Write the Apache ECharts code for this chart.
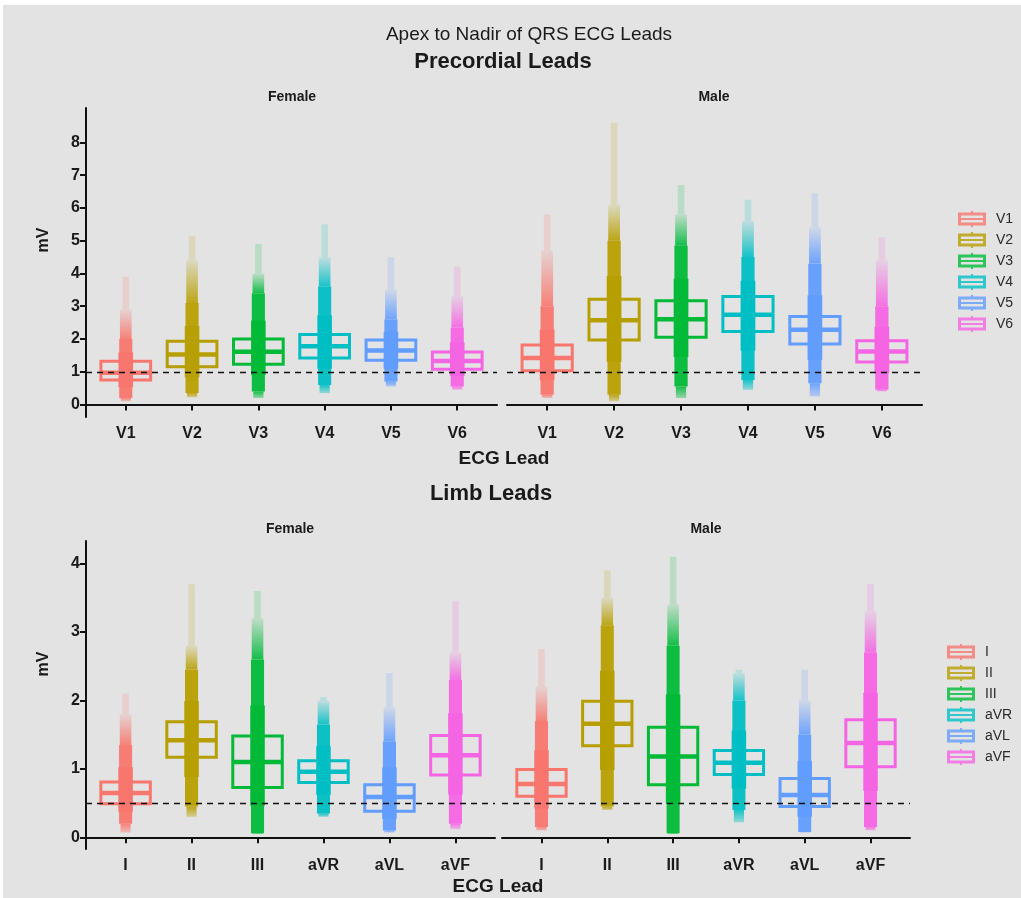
<!DOCTYPE html>
<html>
<head>
<meta charset="utf-8">
<title>Apex to Nadir of QRS ECG Leads</title>
<script src="https://cdn.jsdelivr.net/npm/echarts@6/dist/echarts.min.js"></script>
<style>
    body { margin: 0; background: #fff; }
    #bg { position: absolute; left: 3px; top: 5px; right: 0; bottom: 0; background: #e3e3e3; }
    #main { position: absolute; left: 0; top: 0; width: 1021px; height: 898px; }
</style>
</head>
<body>
<div id="bg"></div>
<div id="main"></div>
<script>
// leads
const precordialLeads = ["V1", "V2", "V3", "V4", "V5", "V6"]
const limbLeads = ["I", "II", "III", "aVR", "aVL", "aVF"]

// boxes: [q1, median, q3]
const preFemaleBox = [[0.75, 0.97, 1.32], [1.15, 1.53, 1.93], [1.23, 1.61, 2.00], [1.42, 1.78, 2.14], [1.35, 1.65, 1.97], [1.08, 1.33, 1.60]]
const preMaleBox = [[1.03, 1.42, 1.82], [1.97, 2.57, 3.21], [2.05, 2.60, 3.17], [2.23, 2.74, 3.30], [1.85, 2.28, 2.69], [1.30, 1.62, 1.95]]
const limbFemaleBox = [[0.49, 0.65, 0.81], [1.17, 1.42, 1.69], [0.73, 1.10, 1.48], [0.80, 0.96, 1.12], [0.38, 0.59, 0.77], [0.91, 1.20, 1.49]]
const limbMaleBox = [[0.60, 0.78, 0.99], [1.34, 1.66, 1.99], [0.77, 1.18, 1.61], [0.92, 1.09, 1.27], [0.45, 0.62, 0.86], [1.03, 1.38, 1.72]]

// point clouds: [min, dense low, dense high, sparse high, max]
const preFemaleCloud = [[0.1, 0.2, 2.0, 2.9, 3.9], [0.22, 0.35, 3.1, 4.4, 5.15], [0.2, 0.4, 3.4, 4.0, 4.9], [0.35, 0.6, 3.6, 4.5, 5.5], [0.55, 0.7, 2.6, 3.5, 4.5], [0.45, 0.55, 2.35, 3.3, 4.2]]
const preMaleCloud = [[0.2, 0.3, 3.0, 4.7, 5.8], [0.1, 0.3, 5.0, 6.1, 8.6], [0.2, 0.55, 4.85, 5.8, 6.7], [0.45, 0.75, 4.5, 5.6, 6.25], [0.25, 0.65, 4.3, 5.4, 6.45], [0.4, 0.45, 3.0, 4.4, 5.1]]
const limbFemaleCloud = [[0.07, 0.2, 1.35, 1.8, 2.1], [0.3, 0.45, 2.45, 2.8, 3.7], [0.05, 0.06, 2.6, 3.2, 3.6], [0.3, 0.35, 1.65, 2.0, 2.05], [0.07, 0.1, 1.4, 1.9, 2.4], [0.12, 0.2, 2.3, 2.7, 3.45]]
const limbMaleCloud = [[0.1, 0.15, 1.7, 2.2, 2.75], [0.4, 0.45, 3.1, 3.5, 3.9], [0.05, 0.06, 2.8, 3.4, 4.1], [0.22, 0.4, 2.0, 2.4, 2.45], [0.07, 0.08, 1.5, 2.0, 2.45], [0.1, 0.15, 2.7, 3.3, 3.7]]

const preTicks = [0, 1, 2, 3, 4, 5, 6, 7, 8]
const limbTicks = [0, 1, 2, 3, 4]
const preRef = 1
const limbRef = 0.5

const colors = ["#F8766D", "#B79F00", "#00BA38", "#00BFC4", "#619CFF", "#F564E3"]
const font = '"Liberation Sans", Arial, sans-serif'

function rgba(hex, a) {
    let n = parseInt(hex.slice(1), 16)
    return `rgba(${(n >> 16) & 255},${(n >> 8) & 255},${n & 255},${a})`
}

function renderLead(params, api) {
    let x = api.value(0)
    let y = (v) => api.coord([x, v])[1]
    let cx = api.coord([x, 0])[0]
    let bw = api.size([0.75, 0])[0]
    let cw = api.size([0.22, 0])[0]
    let c = api.visual("color")
    let q1 = api.value(1), med = api.value(2), q3 = api.value(3)
    let mn = api.value(4), lo = api.value(5), hi = api.value(6), sp = api.value(7), mx = api.value(8)
    let rect = (w, top, bottom, fill) => ({
        type: "rect",
        shape: { x: cx - w / 2, y: y(top), width: w, height: y(bottom) - y(top) },
        style: { fill },
    })
    return {
        type: "group",
        children: [
            {
                type: "rect",
                shape: { x: cx - bw / 2, y: y(q3), width: bw, height: y(q1) - y(q3) },
                style: { fill: "none", stroke: c, lineWidth: 3 },
            },
            {
                type: "line",
                shape: { x1: cx - bw / 2, y1: y(med), x2: cx + bw / 2, y2: y(med) },
                style: { stroke: c, lineWidth: 4.5 },
            },
            rect(cw * 0.45, mx, sp, rgba(c, 0.18)),
            rect(cw * 0.8, sp, hi, new echarts.graphic.LinearGradient(0, 0, 0, 1, [
                { offset: 0, color: rgba(c, 0.15) },
                { offset: 1, color: rgba(c, 0.9) },
            ])),
            rect(cw * 0.9, hi, lo, rgba(c, 0.95)),
            rect(cw, q3 + (hi - q3) * 0.4, q1 - (q1 - lo) * 0.4, rgba(c, 1)),
            rect(cw * 0.7, lo, mn, new echarts.graphic.LinearGradient(0, 0, 0, 1, [
                { offset: 0, color: rgba(c, 0.9) },
                { offset: 1, color: rgba(c, 0.35) },
            ])),
        ],
    }
}

function panelSeries(leads, boxes, clouds, idx, ref) {
    let list = leads.map((name, i) => ({
        name,
        type: "custom",
        xAxisIndex: idx,
        yAxisIndex: idx,
        itemStyle: { color: colors[i] },
        renderItem: renderLead,
        encode: { x: 0, y: [1, 2, 3] },
        data: [[i + 1, ...boxes[i], ...clouds[i]]],
        z: 2,
    }))
    list.push({
        type: "line",
        xAxisIndex: idx,
        yAxisIndex: idx,
        data: [],
        z: 5,
        markLine: {
            silent: true,
            symbol: "none",
            label: { show: false },
            lineStyle: { color: "#111", type: [6, 5], width: 1.3 },
            data: [{ yAxis: ref }],
        },
    })
    return list
}

function xAxis(idx, leads) {
    return {
        type: "value",
        gridIndex: idx,
        min: 0.4,
        max: 6.6,
        splitLine: { show: false },
        axisLine: { lineStyle: { color: "#111", width: 2 } },
        axisTick: { customValues: [1, 2, 3, 4, 5, 6], length: 6, lineStyle: { color: "#111", width: 2 } },
        axisLabel: {
            customValues: [1, 2, 3, 4, 5, 6],
            formatter: (v) => leads[v - 1],
            color: "#1a1a1a",
            fontWeight: "bold",
            fontSize: 16,
            fontFamily: font,
            margin: 9,
        },
    }
}

function yAxis(idx, min, max, ticks, show) {
    return {
        type: "value",
        gridIndex: idx,
        min,
        max,
        show,
        splitLine: { show: false },
        axisLine: { show: true, lineStyle: { color: "#111", width: 2 } },
        axisTick: { show: true, customValues: ticks, length: 6, lineStyle: { color: "#111", width: 2 } },
        axisLabel: {
            customValues: ticks,
            color: "#1a1a1a",
            fontWeight: "bold",
            fontSize: 16,
            fontFamily: font,
            margin: 6,
        },
    }
}

function label(text, x, y, size, weight, rotation) {
    return {
        type: "text",
        x,
        y,
        rotation: rotation || 0,
        style: {
            text,
            fill: "#1a1a1a",
            fontSize: size,
            fontWeight: weight,
            fontFamily: font,
            align: "center",
            verticalAlign: "middle",
        },
    }
}

let legendBase = {
    orient: "vertical",
    itemWidth: 28,
    itemHeight: 16,
    itemGap: 5,
    icon: "path://M0,1.5H28V14.5H0Z M3,4.5V7H25V4.5Z M3,9V11.5H25V9Z M13,0H15V1.5H13Z M13,14.5H15V16H13Z",
    itemStyle: { opacity: 0.8 },
    textStyle: { fontSize: 14, color: "#2a2a2a", fontFamily: font, padding: [0, 0, 0, 5] },
}

let myChart = echarts.init(document.getElementById("main"))
myChart.setOption({
    animation: false,
    grid: [
        { left: 86, top: 108, width: 411, height: 309 },
        { left: 507, top: 108, width: 415, height: 309 },
        { left: 86, top: 541, width: 409, height: 308 },
        { left: 502, top: 541, width: 408, height: 308 },
    ],
    xAxis: [xAxis(0, precordialLeads), xAxis(1, precordialLeads), xAxis(2, limbLeads), xAxis(3, limbLeads)],
    yAxis: [
        yAxis(0, -0.38, 9.05, preTicks, true),
        yAxis(1, -0.38, 9.05, preTicks, false),
        yAxis(2, -0.17, 4.33, limbTicks, true),
        yAxis(3, -0.17, 4.33, limbTicks, false),
    ],
    legend: [
        { ...legendBase, left: 953, top: 206, data: precordialLeads },
        { ...legendBase, left: 942, top: 639, data: limbLeads },
    ],
    graphic: [
        label("Apex to Nadir of QRS ECG Leads", 529, 35, 19, "normal"),
        label("Precordial Leads", 503, 62, 22, "bold"),
        label("Female", 292, 97, 14, "bold"),
        label("Male", 714, 97, 14, "bold"),
        label("ECG Lead", 504, 459, 19, "bold"),
        label("mV", 44, 240, 16, "bold", Math.PI / 2),
        label("Limb Leads", 491, 494, 22, "bold"),
        label("Female", 290, 529, 14, "bold"),
        label("Male", 706, 529, 14, "bold"),
        label("ECG Lead", 498, 887, 19, "bold"),
        label("mV", 44, 664, 16, "bold", Math.PI / 2),
    ],
    series: [
        ...panelSeries(precordialLeads, preFemaleBox, preFemaleCloud, 0, preRef),
        ...panelSeries(precordialLeads, preMaleBox, preMaleCloud, 1, preRef),
        ...panelSeries(limbLeads, limbFemaleBox, limbFemaleCloud, 2, limbRef),
        ...panelSeries(limbLeads, limbMaleBox, limbMaleCloud, 3, limbRef),
    ],
})
</script>
</body>
</html>
